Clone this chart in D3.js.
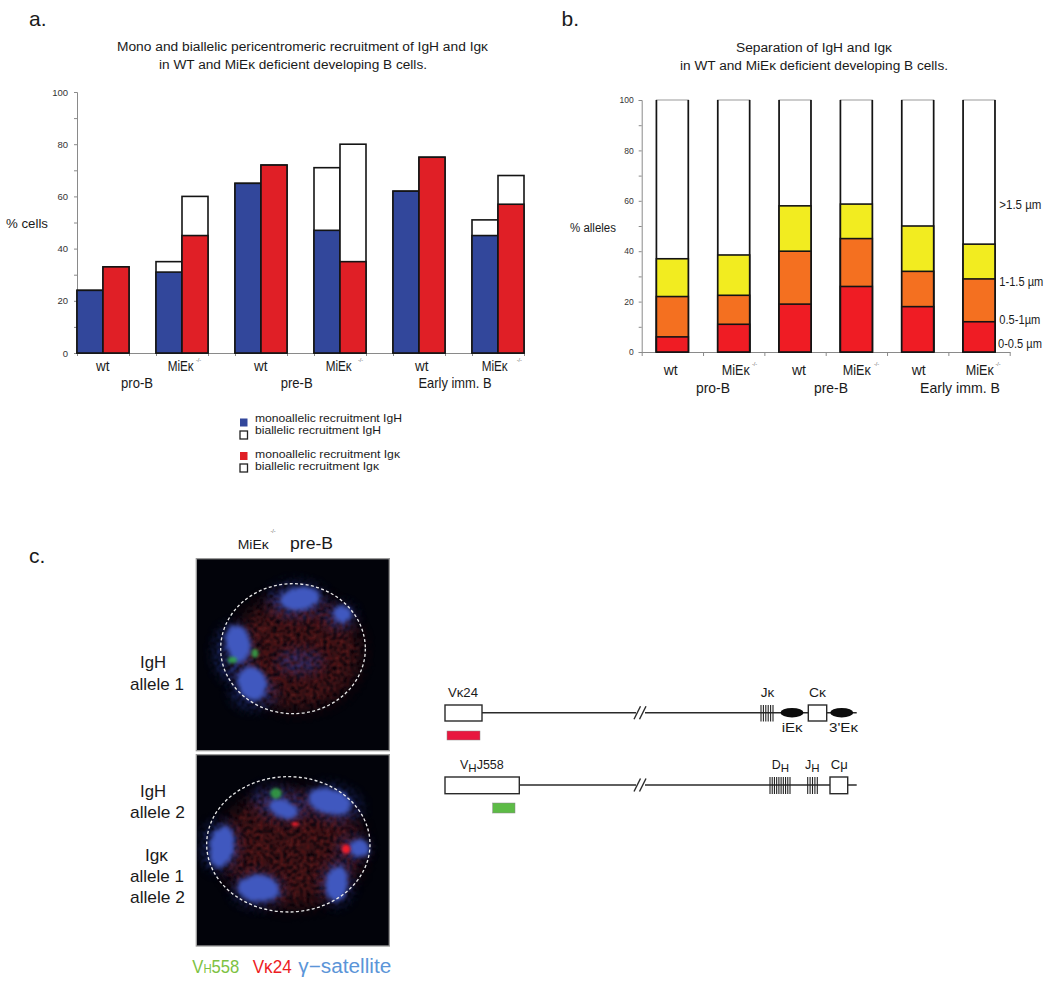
<!DOCTYPE html>
<html><head><meta charset="utf-8">
<script src="https://cdn.jsdelivr.net/npm/d3@7"></script>
<style>
html,body{margin:0;padding:0;background:#fff}
svg{display:block}
text{font-family:"Liberation Sans",Arial,sans-serif;fill:#1a1a1a}
.axis path,.axis line{stroke:#8a8a8a;stroke-width:1}
.axis text{fill:#333;font-family:"Liberation Sans",sans-serif}
</style></head><body>
<svg id="c" width="1050" height="984"></svg>
<script>
// ---- data ----
const groups = ["pro-B wt","pro-B MiEk","pre-B wt","pre-B MiEk","Early wt","Early MiEk"];
const igHMono  = [24,31,65,47,62,45];
const igHTotal = [24,35,65,71,62,51];
const igKMono  = [33,45,72,35,75,57];
const igKTotal = [33,60,72,80,75,68];
const sep0_05  = [6,11,19,26,18,12];
const sep05_1  = [22,22.5,40,45,32,29];
const sep1_15  = [37,38.5,58,58.7,50,42.8];
const sepAll   = [100,100,100,100,100,100];
const yTicks = [0,10,20,30,40,50,60,70,80,90,100];
const colBlue="#32479b", colRed="#e01f26";
const sepColors=["#ffffff","#f2ec20","#f47020","#ef1c24"];

const svg=d3.select("#c");
function T(x,y,s,size,o={}){
  const t=svg.append("text").attr("x",x).attr("y",y).attr("font-size",size).text(s);
  if(o.anchor)t.attr("text-anchor",o.anchor);
  if(o.fill)t.style("fill",o.fill);
  if(o.len)t.attr("textLength",o.len).attr("lengthAdjust","spacingAndGlyphs");
  return t;
}
// ---- panel a ----
const xA=d3.scaleBand().domain(groups).range([77,524]).paddingInner(27/79).paddingOuter(0);
const yA=d3.scaleLinear().domain([0,100]).range([353,92]);
const fmt=d=>d%20===0?d:"";
const axA=svg.append("g").attr("class","axis").attr("transform","translate(77,0)")
  .call(d3.axisLeft(yA).tickValues(yTicks).tickSize(3).tickPadding(6).tickFormat(fmt));
axA.selectAll("text").attr("font-size",9.5);
const edgesA=groups.flatMap(g=>[xA(g),xA(g)+xA.bandwidth()]);
svg.append("g").attr("class","axis").attr("transform","translate(0,353)")
  .call(d3.axisBottom(d3.scaleLinear().domain([77,524]).range([77,524])).tickValues(edgesA).tickSize(3).tickSizeOuter(0).tickFormat(""));
const bwA=xA.bandwidth()/2;
function barsA(total,mono,col,dx){
  const g=svg.append("g").attr("stroke","#141414").attr("stroke-width",1.6);
  g.selectAll(".t").data(groups).join("rect").attr("x",d=>xA(d)+dx).attr("width",bwA)
    .attr("y",(d,i)=>yA(total[i])).attr("height",(d,i)=>yA(0)-yA(total[i])).attr("fill","#fff");
  g.selectAll(".m").data(groups).join("rect").attr("x",d=>xA(d)+dx).attr("width",bwA)
    .attr("y",(d,i)=>yA(mono[i])).attr("height",(d,i)=>yA(0)-yA(mono[i])).attr("fill",col);
}
barsA(igHTotal,igHMono,colBlue,0);
barsA(igKTotal,igKMono,colRed,bwA);

// ---- panel b ----
const xB=d3.scaleBand().domain(groups).range([641.7,1009.7]).paddingInner(0.48).paddingOuter(0.24);
const yB=d3.scaleLinear().domain([0,100]).range([352,100]);
const axB=svg.append("g").attr("class","axis").attr("transform","translate(641.7,0)")
  .call(d3.axisLeft(yB).tickValues(yTicks).tickSize(3).tickPadding(5).tickFormat(fmt));
axB.selectAll("text").attr("font-size",8.5);
svg.append("g").attr("class","axis").attr("transform","translate(0,352)")
  .call(d3.axisBottom(d3.scaleLinear().domain([0,6]).range([641.7,1009.7])).tickValues([0,1,2,3,4,5,6]).tickSize(4).tickSizeOuter(0).tickFormat(""));
// white top segments: black sides, thin grey top
const topG=svg.append("g");
topG.selectAll("rect").data(groups).join("rect").attr("x",d=>xB(d)).attr("width",xB.bandwidth())
  .attr("y",(d,i)=>yB(sepAll[i])).attr("height",(d,i)=>yB(0)-yB(sepAll[i])).attr("fill",sepColors[0])
  .attr("stroke","#999").attr("stroke-width",1);
topG.selectAll("line").data(groups.flatMap(g=>[xB(g),xB(g)+xB.bandwidth()])).join("line")
  .attr("x1",d=>d).attr("x2",d=>d).attr("y1",yB(100)).attr("y2",yB(0)).attr("stroke","#141414").attr("stroke-width",1.7);
[sep1_15,sep05_1,sep0_05].forEach((vals,k)=>{
  svg.append("g").attr("stroke","#141414").attr("stroke-width",1.6).selectAll("rect").data(groups).join("rect")
    .attr("x",d=>xB(d)).attr("width",xB.bandwidth())
    .attr("y",(d,i)=>yB(vals[i])).attr("height",(d,i)=>yB(0)-yB(vals[i])).attr("fill",sepColors[k+1]);
});

// ---- panel letters and titles ----
T(29,26,"a.",21); T(561.5,26,"b.",21); T(29,563,"c.",21);
T(302.5,50.5,"Mono and biallelic pericentromeric recruitment of IgH and Igκ",12.3,{anchor:"middle",len:371});
T(293,68.5,"in WT and MiEκ deficient developing B cells.",12.3,{anchor:"middle",len:268});
T(814,52,"Separation of IgH and Igκ",12.3,{anchor:"middle",len:156});
T(814,70,"in WT and MiEκ deficient developing B cells.",12.3,{anchor:"middle",len:268});
T(6,228,"% cells",13,{len:42}); T(570,232,"% alleles",12.5,{len:46});

function sup(x,y){T(x,y,"-/-",5.5,{fill:"#666"});}
const catA=[["wt",102.7,0],["MiEκ",167.7,1,196],["wt",260.7,0],["MiEκ",325.7,1,358],["wt",421.7,0],["MiEκ",481.7,1,516.7]];
catA.forEach(c=>{
  if(c[2]){T(c[1],371,c[0],14.5,{len:26});sup(c[3],362);}
  else T(c[1],371,c[0],14.5,{anchor:"middle",len:13.5});
});
const catB=[["wt",670.7,0],["MiEκ",721.7,1,752],["wt",799,0],["MiEκ",842.7,1,874],["wt",918.7,0],["MiEκ",965.7,1,995.5]];
catB.forEach(c=>{
  if(c[2]){T(c[1],375,c[0],14.5,{len:28});sup(c[3],366);}
  else T(c[1],375,c[0],14.5,{anchor:"middle",len:14});
});
[["pro-B",137,32],["pre-B",296.7,32],["Early imm. B",455,73]].forEach(c=>T(c[1],388,c[0],14.5,{anchor:"middle",len:c[2]}));
[["pro-B",713,34],["pre-B",831,34],["Early imm. B",960,80]].forEach(c=>T(c[1],392.5,c[0],14.5,{anchor:"middle",len:c[2]}));
[[">1.5 µm",999.3,208.5,42],["1-1.5 µm",999.3,286,44],["0.5-1µm",999.3,324,41],["0-0.5 µm",998,348,44]].forEach(c=>T(c[1],c[2],c[0],12,{len:c[3]}));

// legend
const legend=[["monoallelic recruitment IgH",421.5,418.5,colBlue,147],["biallelic recruitment IgH",433.5,431,"#fff",126],
 ["monoallelic recruitment Igκ",458,452,colRed,145],["biallelic recruitment Igκ",470,464,"#fff",124]];
legend.forEach(l=>{
  svg.append("rect").attr("x",240).attr("y",l[2]).attr("width",7.5).attr("height",8)
    .attr("fill",l[3]).attr("stroke",l[3]==="#fff"?"#222":"none").attr("stroke-width",1.3);
  T(255,l[1],l[0],10.5,{len:l[4]});
});

// ---- panel c micrographs ----
const defs=svg.append("defs");
function speck(id,blur,freq,seed,a,b){
  const f=defs.append("filter").attr("id",id).attr("x","-40%").attr("y","-40%").attr("width","180%").attr("height","180%");
  f.append("feGaussianBlur").attr("in","SourceGraphic").attr("stdDeviation",blur).attr("result","b");
  f.append("feTurbulence").attr("type","fractalNoise").attr("baseFrequency",freq).attr("numOctaves",3).attr("seed",seed).attr("result","n");
  f.append("feColorMatrix").attr("in","n").attr("type","matrix").attr("values",`0 0 0 0 1 0 0 0 0 1 0 0 0 0 1 ${a} 0 0 0 ${b}`).attr("result","m");
  f.append("feComposite").attr("in","b").attr("in2","m").attr("operator","in").attr("result","c");
  f.append("feGaussianBlur").attr("in","c").attr("stdDeviation",2.5);
}
speck("sRed",24,0.1,4,3.2,-1.0);
speck("sFaint",16,0.12,9,3.2,-1.1);
const soft=defs.append("filter").attr("id","soft").attr("x","-50%").attr("y","-50%").attr("width","200%").attr("height","200%");
soft.append("feTurbulence").attr("type","fractalNoise").attr("baseFrequency",0.06).attr("numOctaves",3).attr("seed",7).attr("result","n");
soft.append("feDisplacementMap").attr("in","SourceGraphic").attr("in2","n").attr("scale",14).attr("result","d");
soft.append("feGaussianBlur").attr("in","d").attr("stdDeviation",7);
const tiny=defs.append("filter").attr("id","tiny").attr("x","-80%").attr("y","-80%").attr("width","260%").attr("height","260%");
tiny.append("feGaussianBlur").attr("stdDeviation",4.5);

const panels=[
 {rect:[529,116,579,576],nuc:[819,386,217,195],
  red:[[830,395,190,170,0]],faint:[[840,425,70,38,0],[640,400,60,90,0],[830,240,90,55,0],[960,290,50,40,0],[700,520,70,50,0]],
  blue:[[840,236,60,34,-8],[968,282,28,26,20],[655,372,36,56,-8],[697,490,42,52,-20]],
  green:[[705,400,10,13],[637,420,14,10]],spots:[]},
 {rect:[529,704,579,574],nuc:[805,973,245,203],
  red:[[815,985,215,175,0]],faint:[[780,850,90,50,15],[940,850,90,55,15],[1000,985,50,40,0],[600,980,60,80,0],[715,1110,80,55,0],[950,1090,50,70,0]],
  blue:[[930,845,66,38,14],[790,866,46,26,22],[605,980,36,64,10],[715,1105,62,40,5],[950,1090,32,52,10],[1018,985,28,28,0]],
  green:[[768,820,17,16]],spots:[[825,912,11,6],[978,987,13,14]]}
];
const cg=svg.append("g").attr("transform","translate(20,520) scale(0.33333)");
panels.forEach((p,i)=>{
  const cp=defs.append("clipPath").attr("id","cp"+i);
  cp.append("rect").attr("x",p.rect[0]).attr("y",p.rect[1]).attr("width",p.rect[2]).attr("height",p.rect[3]);
  cg.append("rect").attr("x",p.rect[0]).attr("y",p.rect[1]).attr("width",p.rect[2]).attr("height",p.rect[3])
    .attr("fill","#02030a").attr("stroke","#9a9a9a").attr("stroke-width",4);
  const g=cg.append("g").attr("clip-path",`url(#cp${i})`);
  const ell=(sel,arr,fill,filt,op)=>sel.selectAll(null).data(arr).join("ellipse")
    .attr("transform",d=>`rotate(${d[4]||0} ${d[0]} ${d[1]})`)
    .attr("cx",d=>d[0]).attr("cy",d=>d[1]).attr("rx",d=>d[2]).attr("ry",d=>d[3])
    .attr("fill",fill).attr("filter",`url(#${filt})`).attr("opacity",op);
  ell(g,p.red,"#6a1a1c","sRed",0.85);
  ell(g,p.faint,"#2c3c9c","sFaint",0.7);
  ell(g,p.blue,"#3f58bf","soft",1);
  ell(g,p.green,"#35b04a","tiny",0.8);
  ell(g,p.spots,"#f01c2c","tiny",1);
  g.append("ellipse").attr("cx",p.nuc[0]).attr("cy",p.nuc[1]).attr("rx",p.nuc[2]).attr("ry",p.nuc[3])
    .attr("fill","none").attr("stroke","#e8e8e8").attr("stroke-width",4).attr("stroke-dasharray","9 7");
});
// panel c labels
T(237.7,548.5,"MiEκ",12.5,{len:31}); T(270.5,533,"-/-",5.5,{fill:"#666"}); T(290,548.5,"pre-B",17,{len:43});
[["IgH",140,668,26],["allele 1",130,690,54],["IgH",140,797,26],["allele 2",130,817.5,55],["Igκ",145,860.5,23],["allele 1",130,882,54],["allele 2",130,903,55]]
  .forEach(l=>T(l[1],l[2],l[0],17,{len:l[3]}));
const vh=T(192.3,972.5,"V",19,{fill:"#7dc242",len:47});
vh.append("tspan").attr("font-size",13).text("H");vh.append("tspan").text("558");
T(252.7,972.5,"Vκ24",19,{fill:"#ed1c24",len:39});
T(298.3,972.5,"γ−satellite",19.5,{fill:"#5b95d8",len:93});

// ---- gene maps ----
const dg=svg.append("g").attr("stroke","#2a2a2a").attr("stroke-width",1.4);
const hl=(x1,x2,y)=>dg.append("line").attr("x1",x1).attr("x2",x2).attr("y1",y).attr("y2",y);
const box=(x1,x2,y1,y2)=>dg.append("rect").attr("x",x1).attr("y",y1).attr("width",x2-x1).attr("height",y2-y1).attr("fill","#fff");
const tickRun=(x1,x2,n,y1,y2)=>d3.range(n).forEach(i=>{const x=x1+(x2-x1)*i/(n-1);dg.append("line").attr("x1",x).attr("x2",x).attr("y1",y1).attr("y2",y2).attr("stroke","#222").attr("stroke-width",1.1)});
hl(482,856.7,712.7); hl(519,856.7,785);
[712.7,785].forEach(y=>{
  dg.append("rect").attr("x",636).attr("y",y-2).attr("width",9).attr("height",4).attr("fill","#fff").attr("stroke","none");
  [636.5,642].forEach(x=>dg.append("line").attr("x1",x-2.5).attr("x2",x+4).attr("y1",y+6.5).attr("y2",y-6.5));
});
box(445,482,705,721); box(808.3,826.7,705,721);
box(445,519.3,777,793.7); box(830,847.7,777,793.7);
tickRun(761,773,6,705,721.5); tickRun(770,790,10,777,794); tickRun(807.7,817.3,5,777,794);
[[792,712.7],[841.7,712.7]].forEach(e=>dg.append("ellipse").attr("cx",e[0]).attr("cy",e[1]).attr("rx",11.5).attr("ry",4.8).attr("fill","#0c0c0c").attr("stroke","none"));
svg.append("rect").attr("x",447).attr("y",731).attr("width",33).attr("height",9).attr("fill","#e8173f").attr("stroke","#888").attr("stroke-width",.5);
svg.append("rect").attr("x",492.7).attr("y",803).attr("width",22.3).attr("height",10).attr("fill","#5dbb46").attr("stroke","#888").attr("stroke-width",.5);
[["Vκ24",448,696.5,30],["Jκ",760.7,696.5,13.5],["Cκ",809,696.5,17],["iEκ",781.7,732.3,21],["3'Eκ",829,732.3,29],["Cμ",830.7,769.3,17]].forEach(l=>T(l[1],l[2],l[0],12.5,{len:l[3]}));
[["V","H","J558",460],["D","H","",771.7],["J","H","",805]].forEach(l=>{
  const t=T(l[3],769.3,l[0],12.5);
  t.append("tspan").attr("dy",3).attr("font-size",11.5).text(l[1]);
  if(l[2])t.append("tspan").attr("dy",-3).text(l[2]);
});
</script></body></html>
